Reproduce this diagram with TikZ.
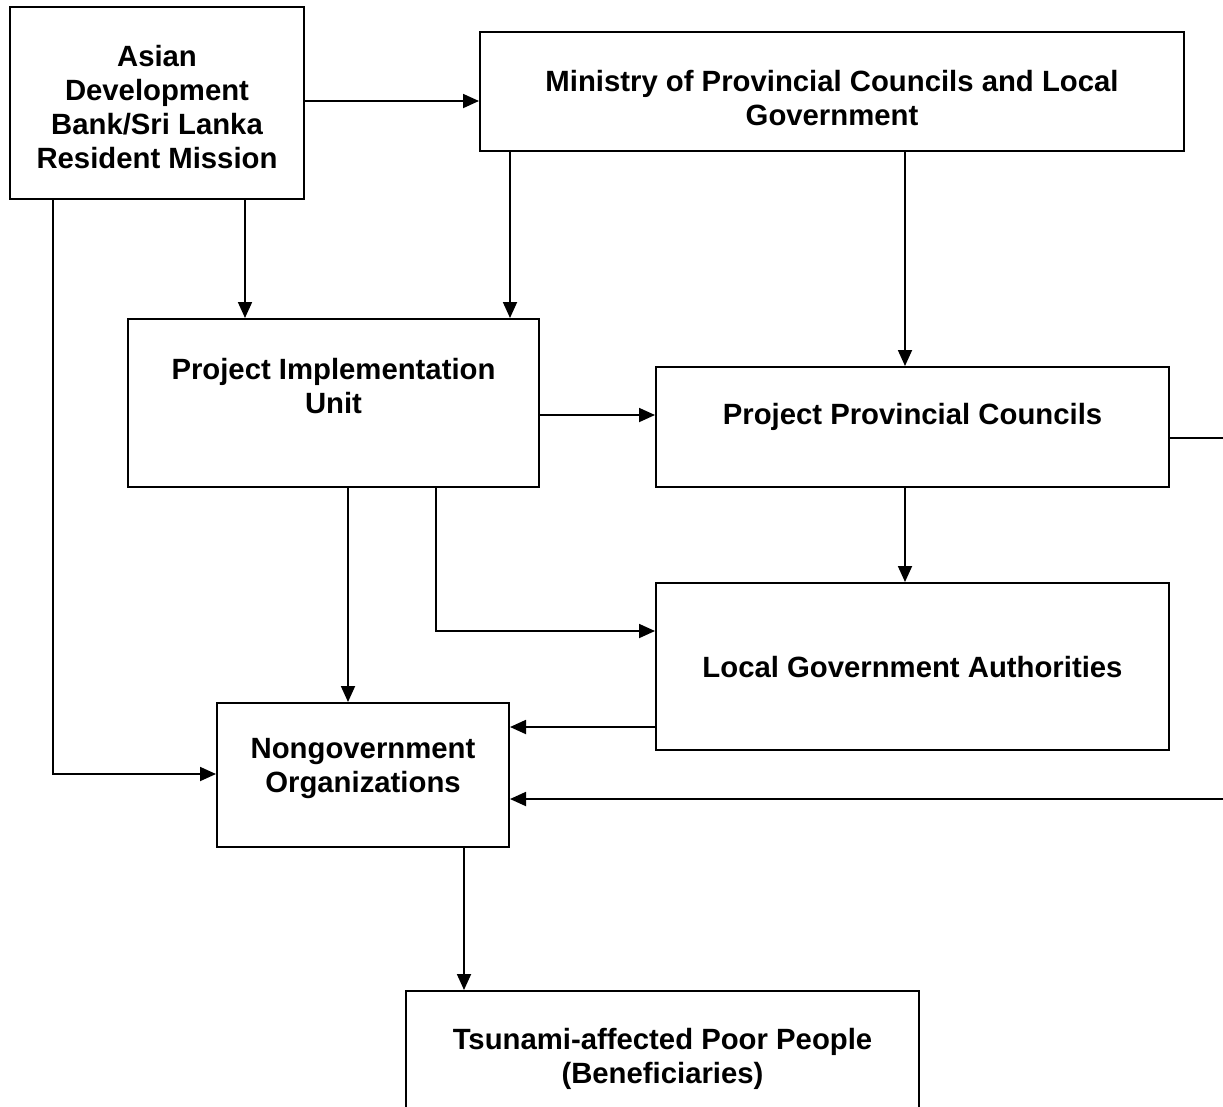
\documentclass[tikz,border=0pt]{standalone}
\usepackage{fontspec}
\setmainfont{Liberation Sans}
\usetikzlibrary{arrows.meta}
\begin{document}
\begin{tikzpicture}[x=1pt,y=-1pt,
  box/.style={draw, line width=2pt, inner sep=0pt, fill=white},
  lbl/.style={align=center, font=\fontsize{29.3}{34}\selectfont\bfseries, inner sep=0pt},
  arr/.style={line width=1.8pt, -{Triangle[length=16pt,width=14pt]}},
  con/.style={line width=1.8pt}]
\path[use as bounding box, clip] (0,0) rectangle (1223,1106);
\fill[white] (0,0) rectangle (1223,1106);
% boxes
\node[box, minimum width=294, minimum height=192] (adb) at (157,103) {};
\node[lbl] (adbt) at (157,107) {Asian\\Development\\Bank/Sri Lanka\\Resident Mission};
\node[box, minimum width=704, minimum height=119] (min) at (832,91.5) {};
\node[lbl] (mint) at (832,98) {Ministry of Provincial Councils and Local\\Government};
\node[box, minimum width=411, minimum height=168] (piu) at (333.5,403) {};
\node[lbl] (piut) at (333.5,386) {Project Implementation\\Unit};
\node[box, minimum width=513, minimum height=120] (ppc) at (912.5,427) {};
\node[lbl] (ppct) at (912.5,417) {Project Provincial Councils};
\node[box, minimum width=513, minimum height=167] (lga) at (912.5,666.5) {};
\node[lbl] (lgat) at (912.5,667) {Local Government Authorities};
\node[box, minimum width=292, minimum height=144] (ngo) at (363,775) {};
\node[lbl] (ngot) at (363,769) {Nongovernment\\Organizations};
\node[box, minimum width=513, minimum height=160] (tsu) at (662.5,1071) {};
\node[lbl] (tsut) at (662.5,1059) {Tsunami-affected Poor People\\(Beneficiaries)};
% connectors
\coordinate (rt) at (1240,438);
\draw[arr] (adb.east |- 0,101) -- (min.west |- 0,101);
\draw[arr] (adb.south -| 245,0) -- (piu.north -| 245,0);
\draw[arr] (adb.south -| 53,0) |- (ngo.west |- 0,774);
\draw[arr] (min.south -| 510,0) -- (piu.north -| 510,0);
\draw[arr] (min.south -| 905,0) -- (ppc.north -| 905,0);
\draw[arr] (piu.east |- 0,415) -- (ppc.west |- 0,415);
\draw[arr] (ppc.south -| 905,0) -- (lga.north -| 905,0);
\draw[arr] (piu.south -| 348,0) -- (ngo.north -| 348,0);
\draw[arr] (piu.south -| 436,0) |- (lga.west |- 0,631);
\draw[arr] (lga.west |- 0,727) -- (ngo.east |- 0,727);
\draw[arr] (ppc.east |- 0,438) -- (rt) |- (ngo.east |- 0,799);
\draw[arr] (ngo.south -| 464,0) -- (tsu.north -| 464,0);
\end{tikzpicture}
\end{document}
